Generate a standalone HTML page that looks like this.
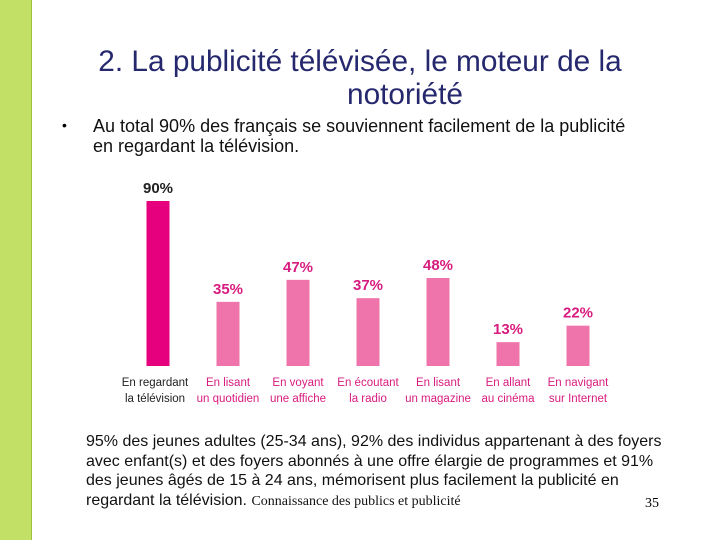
<!DOCTYPE html>
<html><head><meta charset="utf-8"><style>
body{margin:0;width:720px;height:540px;background:#fff;position:relative;overflow:hidden;font-family:"Liberation Sans",sans-serif}
.abs{position:absolute}
</style></head><body>
<div class="abs" style="left:0;top:0;width:31px;height:540px;background:#c2df66;border-right:1px solid #9cc23c"></div>
<div class="abs" style="left:20px;top:45px;width:680px;text-align:center;color:#26286e;font-size:29.8px;line-height:33px">2. La publicité télévisée, le moteur de la<br><span style="padding-left:90px">notoriété</span></div>
<div class="abs" style="left:62px;top:117px;font-size:14px">•</div>
<div class="abs" style="left:93px;top:116px;font-size:18px;line-height:20px;color:#111">Au total 90% des français se souviennent facilement de la publicité<br>en regardant la télévision.</div>
<svg class="abs" style="left:0;top:0" width="720" height="540">
<g id="g"></g></svg>
<div class="abs" style="left:86px;top:432px;font-size:16px;line-height:19.5px;color:#111">95% des jeunes adultes (25-34 ans), 92% des individus appartenant à des foyers<br>avec enfant(s) et des foyers abonnés à une offre élargie de programmes et 91%<br>des jeunes âgés de 15 à 24 ans, mémorisent plus facilement la publicité en<br>regardant la télévision. <span style="font-family:'Liberation Serif',serif;font-size:14px">Connaissance des publics et publicité</span></div>
<div class="abs" style="left:645px;top:496px;font-family:'Liberation Serif',serif;font-size:14px">35</div>
<script>
const categories=[["En regardant","la télévision"],["En lisant","un quotidien"],["En voyant","une affiche"],["En écoutant","la radio"],["En lisant","un magazine"],["En allant","au cinéma"],["En navigant","sur Internet"]];
const values=[90,35,47,37,48,13,22];
const ns="http://www.w3.org/2000/svg",g=document.getElementById("g");
const base=366,scale=165/90;
function x(i){return 158+i*70;}
function y(v){return base-v*scale;}
values.forEach((v,i)=>{
 const c=i==0?"#e6007e":"#ef74ab",tc=i==0?"#222":"#d81b7f";
 const r=document.createElementNS(ns,"rect");
 
 
 r.setAttribute("x",x(i)-11.5);r.setAttribute("y",y(v));r.setAttribute("width",23);r.setAttribute("height",base-y(v));r.setAttribute("fill",c);g.appendChild(r);
 const t=document.createElementNS(ns,"text");
 
 
 t.setAttribute("x",x(i));t.setAttribute("y",y(v)-8);t.setAttribute("text-anchor","middle");t.setAttribute("font-size","15");t.setAttribute("font-weight","bold");t.setAttribute("fill",tc);t.setAttribute("font-family","Liberation Sans");t.textContent=v+"%";g.appendChild(t);
 categories[i].forEach((s,k)=>{
  const l=document.createElementNS(ns,"text");
  
  
  l.setAttribute("x",x(i)-(i==0?3:0));l.setAttribute("y",386+k*16);l.setAttribute("text-anchor","middle");l.setAttribute("font-size","11.5");l.setAttribute("fill",tc);l.setAttribute("font-family","Liberation Sans");l.textContent=s;g.appendChild(l);
 });
});
</script>
</body></html>
